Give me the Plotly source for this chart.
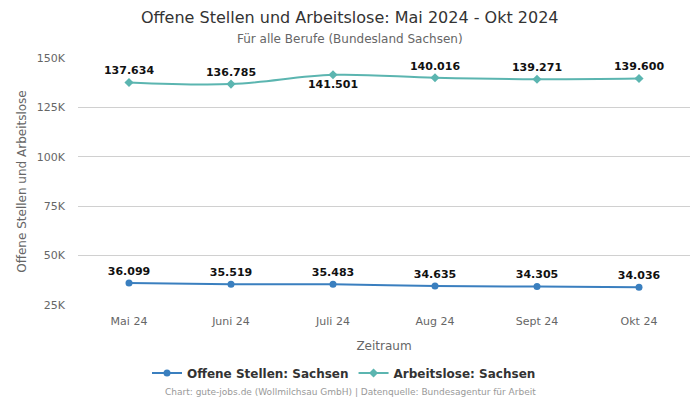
import plotly.graph_objects as go

months = ["Mai 24", "Juni 24", "Juli 24", "Aug 24", "Sept 24", "Okt 24"]
offene = [36099, 35519, 35483, 34635, 34305, 34036]
arbeitslose = [137634, 136785, 141501, 140016, 139271, 139600]
offene_labels = ["36.099", "35.519", "35.483", "34.635", "34.305", "34.036"]
arbeitslose_labels = ["137.634", "136.785", "141.501", "140.016", "139.271", "139.600"]
arbeitslose_pos = ["top center", "top center", "bottom center", "top center", "top center", "top center"]
y_ticks = [25000, 50000, 75000, 100000, 125000, 150000]
y_tick_text = ["25K", "50K", "75K", "100K", "125K", "150K"]

font = "DejaVu Sans"
c_off = "#3a7fbf"
c_arb = "#5bb5b0"

fig = go.Figure()
fig.add_trace(go.Scatter(
    x=months, y=offene, name="Offene Stellen: Sachsen",
    mode="lines+markers+text", line=dict(color=c_off, width=2, shape="spline"),
    marker=dict(symbol="circle", size=7, color=c_off),
    text=offene_labels, textposition="top center",
    textfont=dict(family=font, size=11, color="#111111", weight="bold"),
))
fig.add_trace(go.Scatter(
    x=months, y=arbeitslose, name="Arbeitslose: Sachsen",
    mode="lines+markers+text", line=dict(color=c_arb, width=2, shape="spline"),
    marker=dict(symbol="diamond", size=7, color=c_arb),
    text=arbeitslose_labels, textposition=arbeitslose_pos,
    textfont=dict(family=font, size=11, color="#111111", weight="bold"),
))

W, H = 700, 400
L, R, T, B = 78, 10, 58, 95
ph = H - T - B
pw = W - L - R

def py(y_px):
    return (H - B - y_px) / ph

def px(x_px):
    return (x_px - L) / pw

fig.update_layout(
    width=W, height=H,
    margin=dict(l=L, r=R, t=T, b=B, autoexpand=False),
    paper_bgcolor="white", plot_bgcolor="white",
    font=dict(family=font, color="#666666", size=11),
    xaxis=dict(
        title=dict(text="Zeitraum", font=dict(size=12, color="#666666"), standoff=14),
        range=[-0.5, 5.5], showgrid=False, showline=False, ticks="",
        tickfont=dict(size=11, color="#666666"), ticklabelstandoff=8,
        automargin=False,
    ),
    yaxis=dict(
        title=dict(text="Offene Stellen und Arbeitslose", font=dict(size=12, color="#666666"), standoff=7),
        range=[25000, 150000], tickvals=y_ticks, ticktext=y_tick_text,
        showgrid=True, gridcolor="#d0d0d0", gridwidth=1, zeroline=False,
        tickfont=dict(size=11, color="#666666"), ticklabelstandoff=12,
        automargin=False,
    ),
    legend=dict(
        orientation="h", xref="container", yref="container",
        x=0.5 - 6 / W, xanchor="center", y=(H - 373) / H, yanchor="middle",
        font=dict(family=font, size=12, color="#333333", weight="bold"),
        itemwidth=30,
    ),
    showlegend=True,
)
fig.add_annotation(
    text="Offene Stellen und Arbeitslose: Mai 2024 - Okt 2024",
    xref="paper", yref="paper", x=px(350), y=py(17), xanchor="center", yanchor="middle",
    showarrow=False, font=dict(family=font, size=16, color="#333333"),
)
fig.add_annotation(
    text="Für alle Berufe (Bundesland Sachsen)",
    xref="paper", yref="paper", x=px(350), y=py(39), xanchor="center", yanchor="middle",
    showarrow=False, font=dict(family=font, size=12, color="#666666"),
)
fig.add_annotation(
    text="Chart: gute-jobs.de (Wollmilchsau GmbH) | Datenquelle: Bundesagentur für Arbeit",
    xref="paper", yref="paper", x=px(350), y=py(392), xanchor="center", yanchor="middle",
    showarrow=False, font=dict(family=font, size=9, color="#999999"),
)
fig.write_html(
    "out.html",
    config={"displayModeBar": False},
    post_script="document.body.style.margin='0';document.body.style.overflow='hidden';",
)
